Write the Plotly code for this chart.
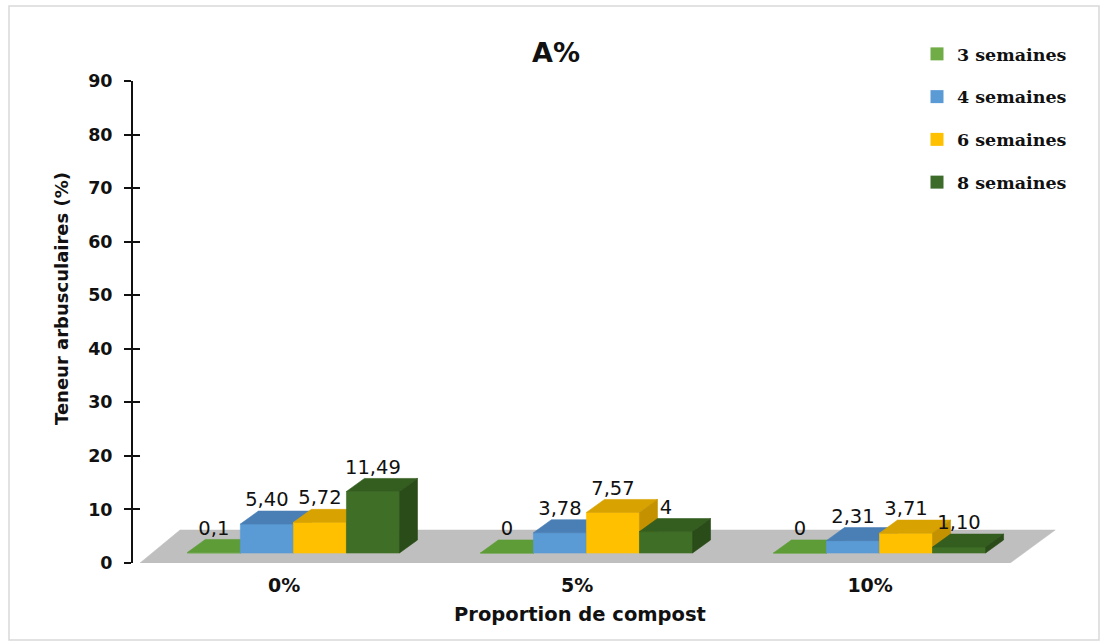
import plotly.graph_objects as go

# ---------------- data ----------------
categories = ["0%", "5%", "10%"]
series_names = ["3 semaines", "4 semaines", "6 semaines", "8 semaines"]
sem3 = [0.1, 0.0, 0.0]
sem4 = [5.40, 3.78, 2.31]
sem6 = [5.72, 7.57, 3.71]
sem8 = [11.49, 4.0, 1.10]
labels3 = ["0,1", "0", "0"]
labels4 = ["5,40", "3,78", "2,31"]
labels6 = ["5,72", "7,57", "3,71"]
labels8 = ["11,49", "4", "1,10"]
y_ticks = [0, 10, 20, 30, 40, 50, 60, 70, 80, 90]

series_values = [sem3, sem4, sem6, sem8]
series_labels = [labels3, labels4, labels6, labels8]

# ---------------- style ----------------
front_colors = ["#6AAB44", "#5B9BD5", "#FFC000", "#3F6F27"]
top_colors = ["#5E9C38", "#4A7FB6", "#D8A300", "#335E1F"]
side_colors = ["#4E8530", "#40709F", "#C49200", "#2A4C18"]
legend_colors = ["#70AD47", "#5B9BD5", "#FFC000", "#3D6B2A"]

BAR_W = 0.181        # width of one bar (x units)
GROUP_LEFT = -0.33   # left edge of the cluster relative to category
DEPTH_X = 0.0614     # 3D depth shift in x units
DEPTH_Y = 2.43       # 3D depth shift in y units
BAR_BASE = 1.867     # bars stand on the middle of the floor
FLOOR_X0, FLOOR_X1 = -0.4915, 2.478
FLOOR_DXL, FLOOR_DXR, FLOOR_DY = 0.1365, 0.1536, 6.16

SANS = "DejaVu Sans"
SERIF = "DejaVu Serif"

fig = go.Figure()

# floor
fig.add_trace(go.Scatter(
    x=[FLOOR_X0, FLOOR_X1, FLOOR_X1 + FLOOR_DXR, FLOOR_X0 + FLOOR_DXL, FLOOR_X0],
    y=[0, 0, FLOOR_DY, FLOOR_DY, 0],
    fill="toself", fillcolor="#BFBFBF", mode="lines",
    line=dict(color="#BFBFBF", width=0.5),
    showlegend=False, hoverinfo="skip"))

# 3D bars: painter's order left to right
for i, vals in enumerate(series_values):
    fx, fy, tx, ty, sx, sy = [], [], [], [], [], []
    for j, v in enumerate(vals):
        x0 = j + GROUP_LEFT + i * BAR_W
        x1 = x0 + BAR_W
        yb = BAR_BASE
        yt = BAR_BASE + v
        fx += [x0, x1, x1, x0, x0, None]
        fy += [yb, yb, yt, yt, yb, None]
        tx += [x0, x1, x1 + DEPTH_X, x0 + DEPTH_X, x0, None]
        ty += [yt, yt, yt + DEPTH_Y, yt + DEPTH_Y, yt, None]
        sx += [x1, x1 + DEPTH_X, x1 + DEPTH_X, x1, x1, None]
        sy += [yb, yb + DEPTH_Y, yt + DEPTH_Y, yt, yb, None]
    for xs, ys, col in ((fx, fy, front_colors[i]), (tx, ty, top_colors[i]), (sx, sy, side_colors[i])):
        fig.add_trace(go.Scatter(
            x=xs, y=ys, fill="toself", fillcolor=col, mode="lines",
            line=dict(color=col, width=0.6), showlegend=False, hoverinfo="skip"))

# data labels
for i, vals in enumerate(series_values):
    xs = [j + GROUP_LEFT + i * BAR_W + BAR_W / 2 for j in range(len(vals))]
    ys = [BAR_BASE + v + DEPTH_Y for v in vals]
    fig.add_trace(go.Scatter(
        x=xs, y=ys, mode="text", text=series_labels[i], textposition="top center",
        textfont=dict(family=SANS, size=19.5, color="#111111"),
        showlegend=False, hoverinfo="skip", cliponaxis=False))

# legend entries
for i, name in enumerate(series_names):
    fig.add_trace(go.Scatter(
        x=[None], y=[None], mode="markers", name=name, legendgroup=name,
        marker=dict(symbol="square", size=13, color=legend_colors[i]),
        yaxis="y2"))

W, H = 1101, 642
ML, MR, MT, MB = 133, 41, 81, 79
PW, PH = W - ML - MR, H - MT - MB


def px_x(p):
    return (p - ML) / PW


def px_y(p):
    return (H - MB - p) / PH


fig.update_layout(
    width=W, height=H,
    margin=dict(l=ML, r=MR, t=MT, b=MB),
    paper_bgcolor="white", plot_bgcolor="white",
    showlegend=True,
    legend=dict(
        x=px_x(917), y=px_y(36), xanchor="left", yanchor="top",
        traceorder="grouped", tracegroupgap=17,
        font=dict(family=SERIF, size=17.5, color="#111111", weight="bold"),
        bgcolor="rgba(0,0,0,0)"),
    xaxis=dict(
        range=[-0.5154, 2.648], showgrid=False, zeroline=False, showline=False,
        tickvals=[0, 1, 2], ticktext=categories, ticks="",
        tickfont=dict(family=SANS, size=19, color="#111111", weight="bold"),
        ticklabelstandoff=9, fixedrange=True),
    yaxis=dict(
        range=[0, 90], tickvals=y_ticks, showgrid=False, zeroline=False,
        showline=True, linecolor="#111111", linewidth=2,
        ticks="outside", ticklen=7, tickwidth=2, tickcolor="#111111",
        tickfont=dict(family=SANS, size=17.5, color="#111111", weight="bold"),
        ticklabelstandoff=8),
    yaxis2=dict(
        range=[0, 90], tickvals=y_ticks, overlaying="y", side="left", anchor="x",
        showgrid=False, zeroline=False, showline=False,
        ticks="inside", ticklen=7, tickwidth=2, tickcolor="#111111",
        showticklabels=False),
    annotations=[
        dict(text="A%", x=px_x(556), y=px_y(52), xref="paper", yref="paper",
             showarrow=False, xanchor="center", yanchor="middle",
             font=dict(family=SANS, size=27, color="#111111", weight="bold")),
        dict(text="Proportion de compost", x=px_x(580), y=px_y(614),
             xref="paper", yref="paper", showarrow=False,
             xanchor="center", yanchor="middle",
             font=dict(family=SANS, size=19.5, color="#111111", weight="bold")),
        dict(text="Teneur arbusculaires (%)", x=px_x(61), y=px_y(299),
             xref="paper", yref="paper", showarrow=False, textangle=-90,
             xanchor="center", yanchor="middle",
             font=dict(family=SANS, size=18, color="#111111", weight="bold")),
    ],
    shapes=[
        dict(type="rect", xref="paper", yref="paper",
             x0=px_x(9), x1=px_x(1099), y0=px_y(640), y1=px_y(6),
             line=dict(color="#D9D9D9", width=1.5), fillcolor="rgba(0,0,0,0)",
             layer="below"),
    ],
)

fig.write_html("out.html")
